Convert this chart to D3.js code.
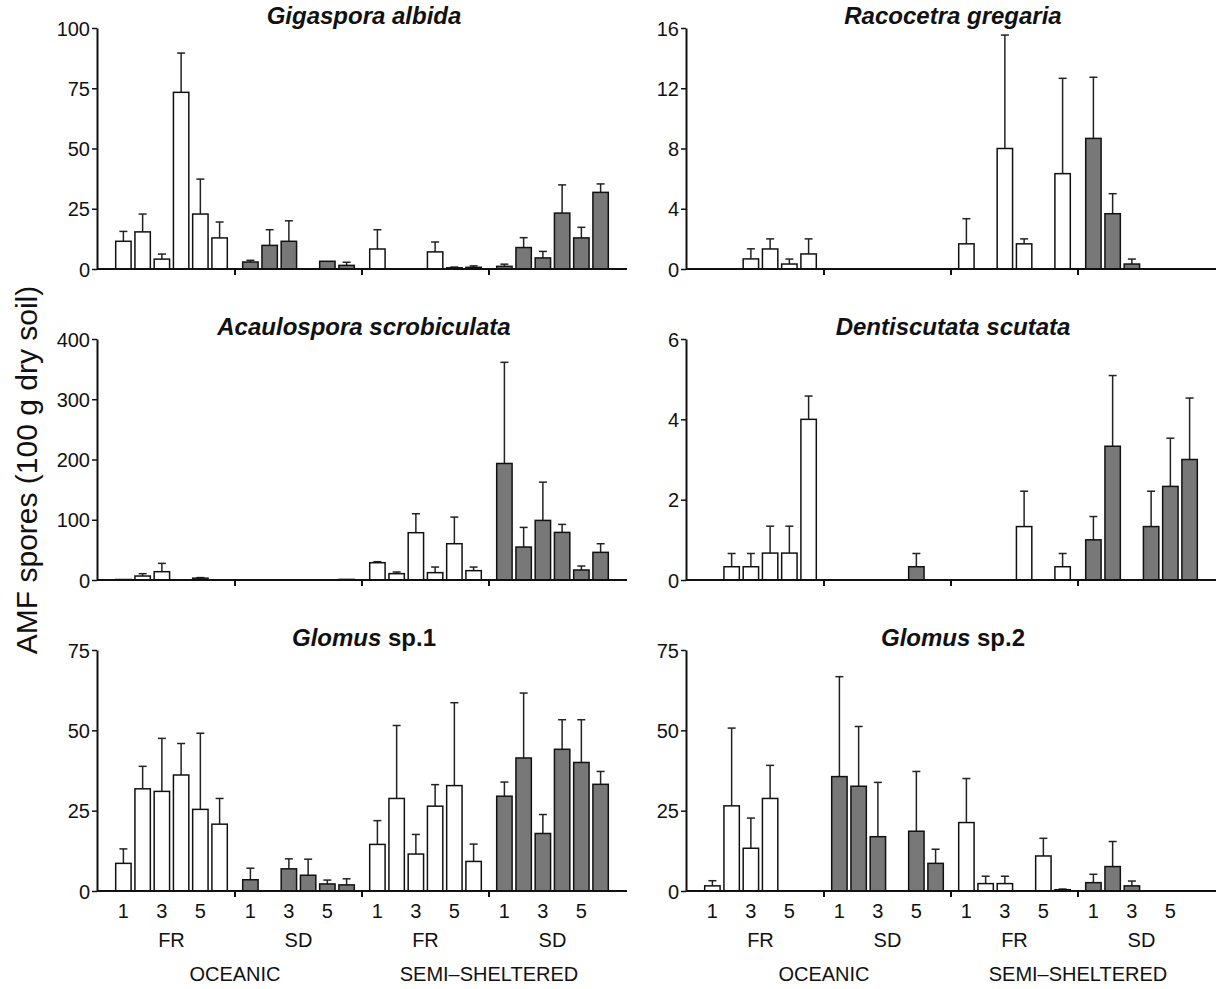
<!DOCTYPE html>
<html>
    <head>
        <meta charset="utf-8">
        <title>AMF spores</title>
        <style>
            body { margin: 0; background: white; }
            svg { display: block; }
            text { font-family: "Liberation Sans", Arial, Helvetica, sans-serif; fill: #111; }
            .axis path, .axis line { stroke: #111; }
            .axis text { font-size: 20px; }
            .title { font-size: 24px; font-weight: bold; }
            .bar { stroke: #111; stroke-width: 1.5; }
            .err { stroke: #222; stroke-width: 1.5; fill: none; }
        </style>
    </head>
    <body>
        <svg width="1216" height="989"></svg>

        <script src="https://d3js.org/d3.v7.min.js"></script>
        <script>
            // x categories: 4 site/treatment groups x 6 sampling months
            const groups = ['OC-FR', 'OC-SD', 'SS-FR', 'SS-SD'];
            const groupTreatment = ['FR', 'SD', 'FR', 'SD'];
            const months = [1, 2, 3, 4, 5, 6];
            const monthLabels = ['1', '', '3', '', '5', ''];
            const sites = ['OCEANIC', 'SEMI\u2013SHELTERED'];

            // panel titles (italic genus + plain suffix)
            const titleItalic = ['Gigaspora albida', 'Racocetra gregaria', 'Acaulospora scrobiculata',
                                 'Dentiscutata scutata', 'Glomus', 'Glomus'];
            const titlePlain = ['', '', '', '', ' sp.1', ' sp.2'];

            // y axis ticks per panel
            const yTicks = [
                [0, 25, 50, 75, 100],
                [0, 4, 8, 12, 16],
                [0, 100, 200, 300, 400],
                [0, 2, 4, 6],
                [0, 25, 50, 75],
                [0, 25, 50, 75]
            ];

            // means and standard errors, 24 bars each (OC-FR, OC-SD, SS-FR, SS-SD x months 1..6)
            const gigasporaMean = [11.5, 15.4, 4.1, 73.3, 22.8, 12.9,  2.9, 9.8, 11.5, 0, 3.2, 1.5,
                                   8.3, 0, 0, 7.1, 0.5, 0.7,  1.1, 8.9, 4.6, 23.2, 12.9, 31.8];
            const gigasporaErr  = [4.1, 7.4, 2.1, 16.3, 14.5, 6.6,  0.7, 6.5, 8.5, 0, 0, 1.3,
                                   8.0, 0, 0, 4.1, 0.3, 0.6,  0.9, 4.1, 2.7, 11.7, 4.4, 3.5];

            const racocetraMean = [0, 0, 0.67, 1.33, 0.33, 1.0,  0, 0, 0, 0, 0, 0,
                                   1.67, 0, 8.0, 1.67, 0, 6.33,  8.67, 3.67, 0.33, 0, 0, 0];
            const racocetraErr  = [0, 0, 0.67, 0.67, 0.33, 1.0,  0, 0, 0, 0, 0, 0,
                                   1.67, 0, 7.53, 0.33, 0, 6.33,  4.06, 1.33, 0.33, 0, 0, 0];

            const acaulosporaMean = [0.8, 6.6, 13.8, 0, 3.0, 0,  0, 0, 0, 0, 0, 1.0,
                                     28.7, 10.5, 78.5, 12.2, 60.2, 15.5,  193.4, 54.7, 98.9, 79.0, 16.6, 45.9];
            const acaulosporaErr  = [0, 3.9, 13.8, 0, 1.0, 0,  0, 0, 0, 0, 0, 0,
                                     1.7, 2.8, 31.5, 9.3, 44.2, 6.0,  167.9, 32.6, 63.5, 13.3, 6.6, 14.3];

            const dentiscutataMean = [0, 0.33, 0.33, 0.67, 0.67, 4.0,  0, 0, 0, 0, 0.33, 0,
                                      0, 0, 0, 1.33, 0, 0.33,  1.0, 3.33, 0, 1.33, 2.33, 3.0];
            const dentiscutataErr  = [0, 0.33, 0.33, 0.67, 0.67, 0.58,  0, 0, 0, 0, 0.33, 0,
                                      0, 0, 0, 0.88, 0, 0.33,  0.58, 1.76, 0, 0.88, 1.2, 1.53];

            const glomus1Mean = [8.6, 31.8, 31.0, 36.1, 25.4, 20.8,  3.5, 0, 6.9, 4.9, 2.2, 1.9,
                                 14.5, 28.8, 11.5, 26.4, 32.8, 9.2,  29.5, 41.4, 17.9, 44.1, 40.0, 33.2];
            const glomus1Err  = [4.5, 7.0, 16.5, 9.8, 23.7, 8.0,  3.6, 0, 3.1, 5.0, 1.2, 1.9,
                                 7.4, 22.7, 6.1, 6.7, 25.8, 5.4,  4.4, 20.2, 5.9, 9.2, 13.3, 4.0];

            const glomus2Mean = [1.6, 26.5, 13.3, 28.8, 0, 0,  35.6, 32.6, 16.9, 0, 18.6, 8.6,
                                 21.3, 2.3, 2.3, 0, 10.9, 0.4,  2.6, 7.6, 1.6, 0, 0, 0];
            const glomus2Err  = [1.6, 24.2, 9.4, 10.3, 0, 0,  31.1, 18.6, 16.9, 0, 18.6, 4.4,
                                 13.7, 2.3, 2.3, 0, 5.5, 0.2,  2.6, 7.8, 1.5, 0, 0, 0];

            const means = [gigasporaMean, racocetraMean, acaulosporaMean, dentiscutataMean, glomus1Mean, glomus2Mean];
            const errs  = [gigasporaErr, racocetraErr, acaulosporaErr, dentiscutataErr, glomus1Err, glomus2Err];

            let svg = d3.select('svg');

            // panel geometry
            let colX = [97, 686];
            let rowY = [28, 339, 650];
            let panelW = 530;
            let panelH = 241;
            let inset = 11;

            // group band and month band inside a group
            let gx = d3.scaleBand()
                .domain(groups)
                .range([inset, panelW - inset]);
            let mx = d3.scaleBand()
                .domain(months)
                .range([0, gx.bandwidth()])
                .paddingInner(0.2)
                .paddingOuter(0.4);

            let fillFor = { FR: '#ffffff', SD: '#787878' };

            // y axis title
            svg.append('text')
                .attr('transform', 'translate(37,470) rotate(-90)')
                .attr('text-anchor', 'middle')
                .style('font-size', '30px')
                .text('AMF spores (100 g dry soil)');

            means.forEach(function(meanArr, p) {
                let col = p % 2, row = Math.floor(p / 2);
                let g = svg.append('g')
                    .attr('transform', `translate(${colX[col]},${rowY[row]})`);

                let maxV = yTicks[p][yTicks[p].length - 1];
                let y = d3.scaleLinear().domain([0, maxV]).range([panelH, 0]);

                // build bar records from the arrays
                let data = meanArr.map(function(v, i) {
                    let grp = groups[Math.floor(i / 6)];
                    return { group: grp, treat: groupTreatment[Math.floor(i / 6)],
                             month: months[i % 6], mean: v, se: errs[p][i] };
                });
                let cx = d => gx(d.group) + mx(d.month);

                // error bars (upper only), drawn behind bars
                let eb = data.filter(d => d.se > 0 && d.mean > 0);
                g.selectAll('.errline').data(eb).enter().append('line')
                    .attr('class', 'err')
                    .attr('x1', d => cx(d) + mx.bandwidth() / 2)
                    .attr('x2', d => cx(d) + mx.bandwidth() / 2)
                    .attr('y1', d => y(d.mean))
                    .attr('y2', d => y(d.mean + d.se));
                g.selectAll('.errcap').data(eb).enter().append('line')
                    .attr('class', 'err')
                    .attr('x1', d => cx(d) + mx.bandwidth() / 2 - 4)
                    .attr('x2', d => cx(d) + mx.bandwidth() / 2 + 4)
                    .attr('y1', d => y(d.mean + d.se))
                    .attr('y2', d => y(d.mean + d.se));

                // bars
                g.selectAll('.bar').data(data.filter(d => d.mean > 0)).enter().append('rect')
                    .attr('class', 'bar')
                    .attr('x', d => cx(d))
                    .attr('width', mx.bandwidth())
                    .attr('y', d => y(d.mean))
                    .attr('height', d => y(0) - y(d.mean))
                    .attr('fill', d => fillFor[d.treat]);

                // y axis
                let ya = g.append('g')
                    .attr('class', 'axis')
                    .call(d3.axisLeft(y).tickValues(yTicks[p]).tickFormat(d3.format('d'))
                        .tickSize(5).tickPadding(2).tickSizeOuter(0));
                ya.select('.domain').attr('stroke-width', 2);
                ya.selectAll('.tick line').attr('stroke-width', 1.5);
                ya.selectAll('.tick text').attr('dy', '0.36em');

                // x axis line and group separator ticks
                g.append('line')
                    .attr('x1', 0).attr('x2', panelW)
                    .attr('y1', panelH).attr('y2', panelH)
                    .attr('stroke', '#111').attr('stroke-width', 2);
                g.selectAll('.sep').data(groups.slice(1)).enter().append('line')
                    .attr('x1', d => gx(d)).attr('x2', d => gx(d))
                    .attr('y1', panelH).attr('y2', panelH + 6)
                    .attr('stroke', '#111').attr('stroke-width', 2);

                // title
                let t = g.append('text')
                    .attr('class', 'title')
                    .attr('x', panelW / 2 + 2)
                    .attr('y', -4)
                    .attr('text-anchor', 'middle');
                t.append('tspan').style('font-style', 'italic').text(titleItalic[p]);
                if (titlePlain[p]) t.append('tspan').text(titlePlain[p]);

                // category labels only under the bottom row
                if (row == 2) {
                    let lab = g.append('g').style('font-size', '20px').attr('text-anchor', 'middle');
                    groups.forEach(function(grp, k) {
                        months.forEach(function(m, i) {
                            if (!monthLabels[i]) return;
                            lab.append('text')
                                .attr('x', gx(grp) + mx(m) + mx.bandwidth() / 2)
                                .attr('y', panelH + 27)
                                .text(monthLabels[i]);
                        });
                        lab.append('text')
                            .attr('x', gx(grp) + gx.bandwidth() / 2)
                            .attr('y', panelH + 56)
                            .text(groupTreatment[k]);
                    });
                    sites.forEach(function(s, k) {
                        lab.append('text')
                            .attr('x', gx(groups[k * 2 + 1]))
                            .attr('y', panelH + 90)
                            .text(s);
                    });
                }
            });
        </script>
    </body>
</html>
